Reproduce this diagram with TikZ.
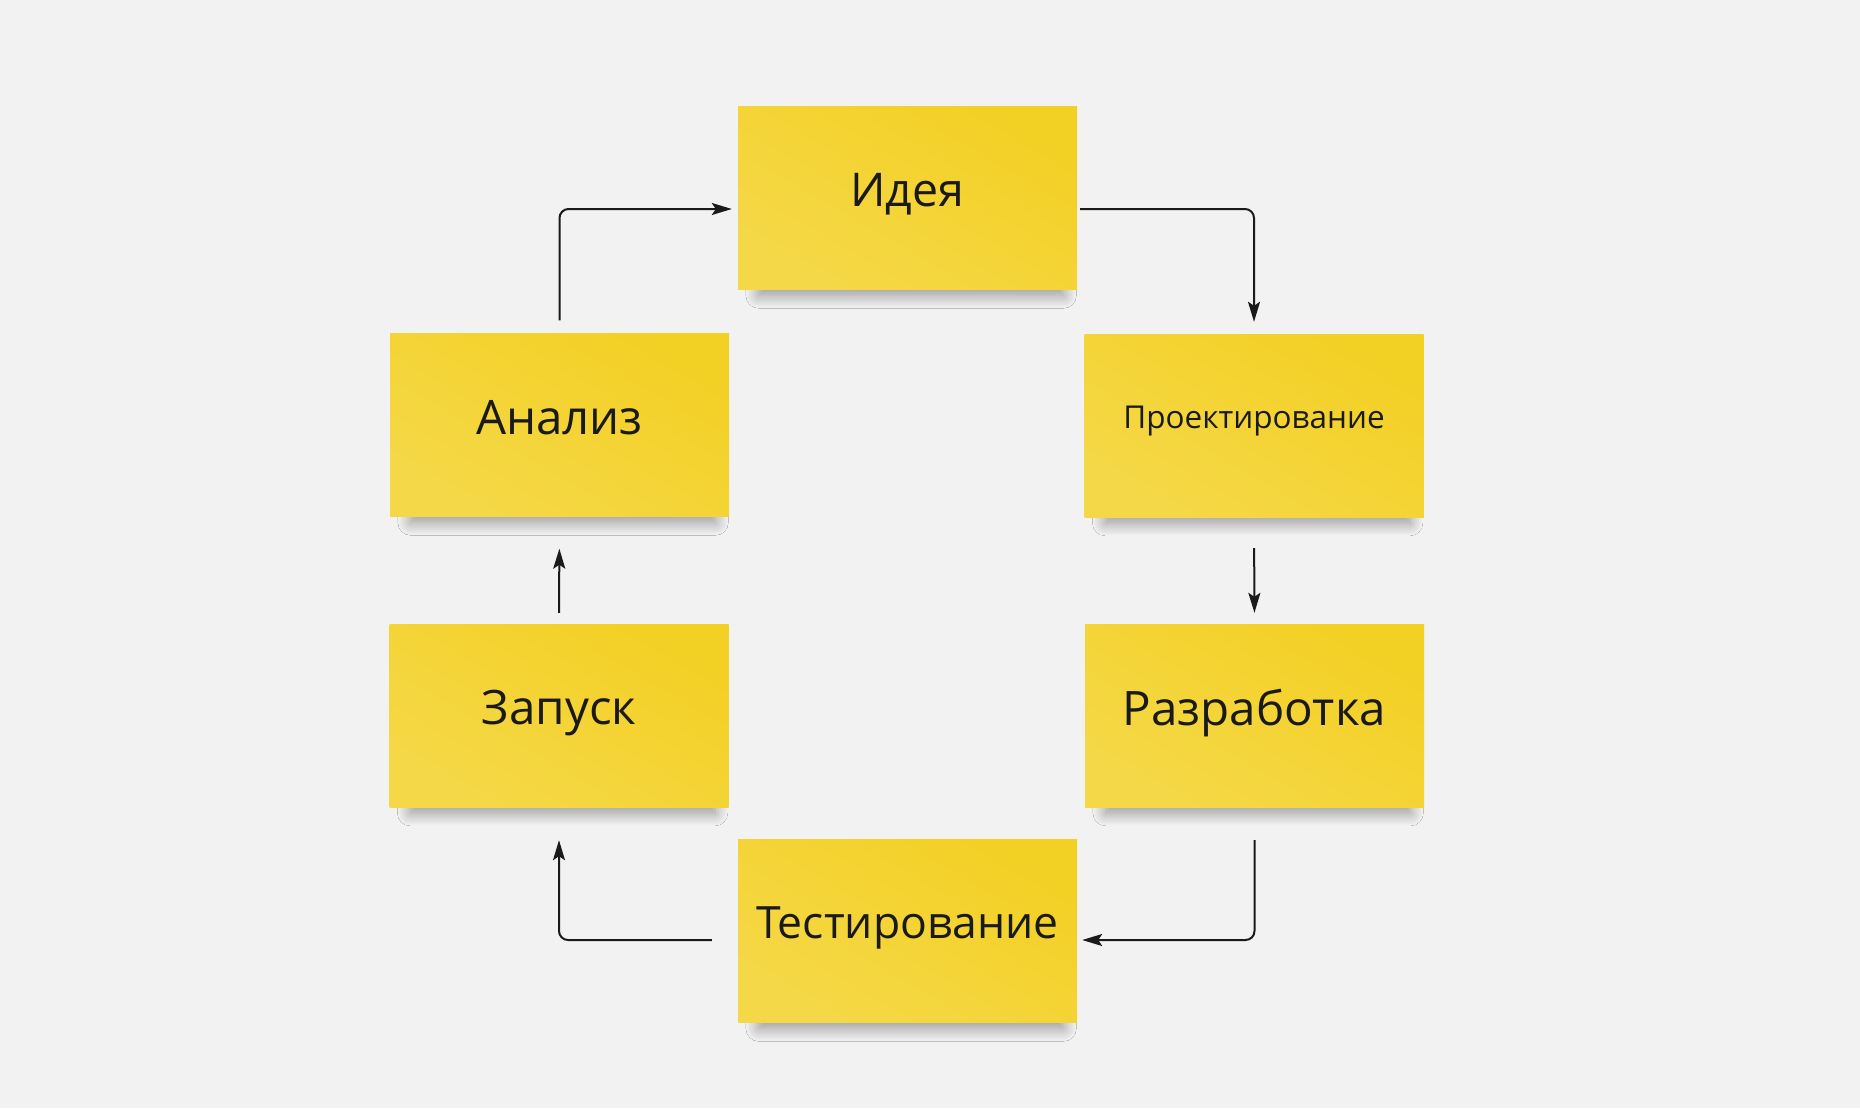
\documentclass[tikz,border=0pt]{standalone}
\usepackage{fontspec}
\setmainfont{Open Sans}
\usetikzlibrary{arrows.meta,shadows.blur}
\definecolor{bg}{HTML}{F2F2F2}
\definecolor{stickyA}{HTML}{F5D848}
\definecolor{stickyB}{HTML}{F3D024}
\definecolor{ink}{HTML}{1A1A1A}
\tikzset{
  sticky/.style={rectangle, inner sep=0pt, minimum width=339pt, minimum height=183pt,
    top color=stickyB, bottom color=stickyA, shading angle=-30,
    text=ink, font=\fontsize{47.5}{52}\selectfont,
    blur shadow={shadow scale=0.9, shadow yshift=-17pt,
      shadow xshift=4pt, shadow blur radius=14pt, shadow blur steps=20, shadow opacity=38}},
  idfont/.style={font=\fontsize{46.5}{52}\selectfont},
  testfont/.style={font=\fontsize{44.5}{50}\selectfont},
  small/.style={font=\fontsize{31.5}{36}\selectfont},
  arr/.style={draw=ink, line width=2pt, rounded corners=9pt,
    -{Stealth[length=20pt,width=12pt,inset=4pt]}}
}
\newcommand{\up}[1]{\raisebox{16pt}{#1}}
\begin{document}
\begin{tikzpicture}[x=1pt,y=-1pt]
\useasboundingbox (0,0) rectangle (1860,1108);
\fill[bg] (0,0) rectangle (1860,1108);
\node[sticky,idfont] (idea) at (907.5,198) {\up{Идея}};
\node[sticky] (analiz) at (559.5,425) {\up{Анализ}};
\node[sticky,small] (proj) at (1254,425.5) {\up{Проектирование}};
\node[sticky] (zapusk) at (559,715.5) {\up{Запуск}};
\node[sticky] (razr) at (1254.5,715.5) {\up{Разработка}};
\node[sticky,testfont] (test) at (907.5,931) {\up{Тестирование}};
\draw[arr, shorten <=13pt, shorten >=6pt] (analiz.north) |- ([yshift=-11pt]idea.west);
\draw[arr, shorten <=3pt, shorten >=12pt] ([yshift=-11pt]idea.east) -| (proj.north);
\draw[arr, shorten <=31pt, shorten >=11pt] (proj.south) -- (razr.north);
\draw[arr, shorten <=33pt, shorten >=5pt] (razr.south) |- ([yshift=-9pt]test.east);
\draw[arr, shorten <=26pt, shorten >=33pt] ([yshift=-9pt]test.west) -| (zapusk.south);
\draw[arr, shorten <=11pt, shorten >=32pt] (zapusk.north) -- (analiz.south);
\end{tikzpicture}
\end{document}
